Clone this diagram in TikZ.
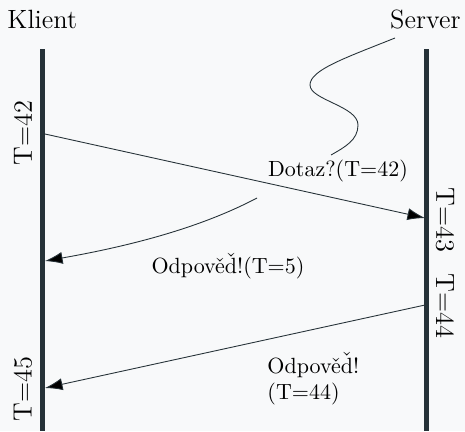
\documentclass[tikz,border=0pt]{standalone}
\usetikzlibrary{arrows.meta}
\definecolor{bg}{HTML}{F8F9FA}
\definecolor{ln}{HTML}{263238}
\newcommand{\dcaron}{{\accent"02C7 d}}
\tikzset{
  lifeline/.style={draw=ln, line width=2.3pt},
  msg/.style={draw=ln, line width=0.4pt, -{Latex[length=8pt,width=5.5pt,fill=black]}},
  wave/.style={draw=ln, line width=0.4pt},
  actor/.style={font=\large, inner sep=0pt},
  tlabel/.style={font=\large, inner sep=0pt},
  mlabel/.style={font=\normalsize, inner sep=0pt, align=left}
}
\begin{document}
\begin{tikzpicture}[x=0.4545pt,y=-0.4545pt]
\fill[bg] (0,0) rectangle (465,431);
\useasboundingbox (0,0) rectangle (465,431);
% actors
\node[actor, anchor=base west] (klient) at (7,28) {Klient};
\node[actor, anchor=base east] (server) at (461,28) {Server};
% lifelines
\coordinate (kt) at (42.5,49);
\coordinate (kb) at (42.5,431);
\coordinate (st) at (426.5,49);
\coordinate (sb) at (426.5,431);
\draw[lifeline] (kt) -- (kb);
\draw[lifeline] (st) -- (sb);
% message endpoints
\coordinate (m1s) at (45,134);
\coordinate (m1e) at (425,218);
\coordinate (m2s) at (257,198);
\coordinate (m2e) at (45,261);
\coordinate (m3s) at (425,305);
\coordinate (m3e) at (45,388);
\draw[msg] (m1s) -- (m1e);
\draw[msg] (m2s) .. controls (200,228) and (130,246) .. (m2e);
\draw[msg] (m3s) -- (m3e);
% wave from server
\coordinate (w0) at (395,38);
\coordinate (w1) at (310,85);
\coordinate (w2) at (358,125);
\coordinate (w3) at (331,155);
\draw[wave] (w0) .. controls (345,58) and (310,70) .. (w1)
  .. controls (310,100) and (358,106) .. (w2)
  .. controls (358,140) and (345,147) .. (w3);
% time labels
\node[tlabel, rotate=90] (t42) at (23,133) {T=42};
\node[tlabel, rotate=-90] (t43) at (445,220) {T=43};
\node[tlabel, rotate=-90] (t44) at (445,306) {T=44};
\node[tlabel, rotate=90] (t45) at (23,389) {T=45};
% message labels
\node[mlabel] (l1) at (338,171) {Dotaz?(T=42)};
\node[mlabel] (l2) at (228,266) {Odpově\dcaron!(T=5)};
\node[mlabel, anchor=north west] (l3) at (267,352) {Odpově\dcaron!\\(T=44)};
\end{tikzpicture}
\end{document}
